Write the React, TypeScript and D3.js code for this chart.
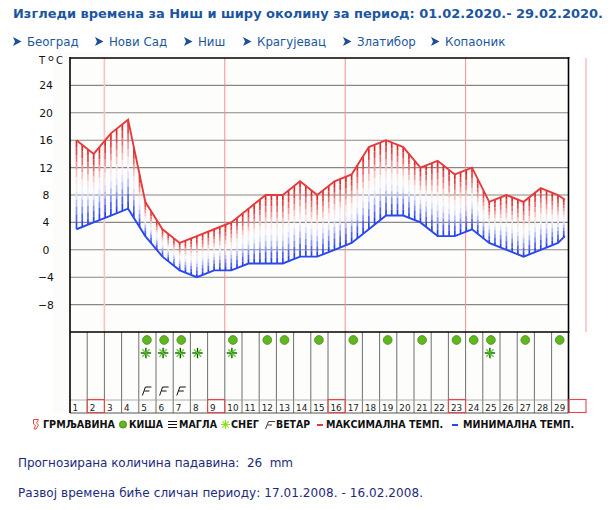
import { useEffect, useRef } from 'react';
import * as d3 from 'd3';

const title = 'Изгледи времена за Ниш и ширу околину за период: 01.02.2020.- 29.02.2020.';
const cities = ['Београд', 'Нови Сад', 'Ниш', 'Крагујевац', 'Златибор', 'Копаоник'];
const cityX = [27, 109, 198, 257, 357, 445];

const days = [
  1, 2, 3, 4, 5, 6, 7, 8, 9, 10, 11, 12, 13, 14, 15, 16, 17, 18, 19, 20, 21, 22, 23, 24, 25, 26, 27, 28, 29, 30,
];
// last entry is the short tail the original draws past day 29
const lineDays = [
  1, 2, 3, 4, 5, 6, 7, 8, 9, 10, 11, 12, 13, 14, 15, 16, 17, 18, 19, 20, 21, 22, 23, 24, 25, 26, 27, 28, 29, 29.4,
];
const maxTemps = [
  16, 14, 17, 19, 7, 3, 1, 2, 3, 4, 6, 8, 8, 10, 8, 10, 11, 15, 16, 15, 12, 13, 11, 12, 7, 8, 7, 9, 8, 7.3,
];
const minTemps = [
  3, 4, 5, 6, 2, -1, -3, -4, -3, -3, -2, -2, -2, -1, -1, 0, 1, 3, 5, 5, 4, 2, 2, 3, 1, 0, -1, 0, 1, 2,
];
const tempTicks = [24, 20, 16, 12, 8, 4, 0, -4, -8];
const rainDays = [5, 6, 7, 10, 12, 13, 15, 17, 19, 21, 23, 24, 25, 27, 29];
const snowDays = [5, 6, 7, 8, 10, 25];
const windDays = [5, 6, 7];
const weekDays = [2, 9, 16, 23, 30];

const bandColors = [
  '#e2282c', '#e64548', '#ec7073', '#f19a9b', '#f6c4c4', '#fae4e4',
  '#f0f0ff', '#dcdfff', '#b6bdfd', '#8593f9', '#5063f4', '#2a45ef',
];

const legendLabels = ['ГРМЉАВИНА', 'КИША', 'МАГЛА', 'СНЕГ', 'ВЕТАР', 'МАКСИМАЛНА ТЕМП.', 'МИНИМАЛНА ТЕМП.'];
const legendX = [43, 129, 179, 231, 276, 326, 463];
const legendW = [72, 34, 38, 28, 34, 117, 111];

const App = () => {
  const svgRef = useRef(null);

  useEffect(() => {
    if (!svgRef.current) return;
    const svg = d3.select(svgRef.current);
    svg.selectAll('*').remove();
    const font = '"DejaVu Sans", Verdana, sans-serif';
    svg.attr('font-family', font);

    const left = 70;
    const right = 568.5;
    const top = 58;
    const mid = 332;
    const rowTop = 400;
    const bottom = 413;

    const y = d3.scaleLinear().domain([-12, 28]).range([mid, top]);
    const x = d3.scaleLinear().domain([1, 29]).range([76.5, 558]);
    const band = d3.scaleBand<number>().domain(days).range([70, 586]);
    const yMax = d3.scaleLinear().domain(lineDays).range(maxTemps);
    const yMin = d3.scaleLinear().domain(lineDays).range(minTemps);

    svg.append('rect').attr('x', 53).attr('y', 52).attr('width', 515).attr('height', 361).attr('fill', '#fcfdfb');
    svg.append('rect').attr('x', left).attr('y', top).attr('width', right - left).attr('height', bottom - top).attr('fill', '#fdfefc');

    // grid
    svg
      .selectAll('line.grid')
      .data(tempTicks)
      .join('line')
      .attr('class', 'grid')
      .attr('x1', left)
      .attr('x2', right)
      .attr('y1', (d) => y(d))
      .attr('y2', (d) => y(d))
      .attr('stroke', '#8b8683')
      .attr('stroke-width', 1.1);

    // week markers sit on the right edge of the boxed day
    const weekX = (d: number) => band(d)! + band.bandwidth();
    svg
      .selectAll('line.week')
      .data(weekDays)
      .join('line')
      .attr('class', 'week')
      .attr('x1', weekX)
      .attr('x2', weekX)
      .attr('y1', top)
      .attr('y2', mid)
      .attr('stroke', (d) => (d === 2 || d === 30 ? '#f8c4c4' : '#ef8f8f'))
      .attr('stroke-width', (d) => (d === 2 || d === 30 ? 1.6 : 1));

    // hatching between the two curves, 3 strokes per day
    const hatchDays = d3.range(1, 29.41, 1 / 3);
    const hatch = svg.append('g').attr('stroke-width', 1.7);
    hatchDays.forEach((d) => {
      const y0 = y(yMax(d));
      const y1 = y(yMin(d));
      const h = (y1 - y0) / bandColors.length;
      hatch
        .append('g')
        .selectAll('line')
        .data(bandColors)
        .join('line')
        .attr('x1', x(d))
        .attr('x2', x(d))
        .attr('y1', (_, i) => y0 + i * h)
        .attr('y2', (_, i) => y0 + (i + 1) * h)
        .attr('stroke', (c) => c);
    });

    const line = (vals: number[]) =>
      d3
        .line<number>()
        .x((d) => x(d))
        .y((_, i) => y(vals[i]))(lineDays);

    svg.append('path').attr('d', line(maxTemps)).attr('fill', 'none').attr('stroke', '#e63a3c').attr('stroke-width', 1.9);
    svg.append('path').attr('d', line(minTemps)).attr('fill', 'none').attr('stroke', '#2b47ee').attr('stroke-width', 1.9);

    // lower panel
    svg
      .selectAll('line.cell')
      .data(days.slice(1, 29))
      .join('line')
      .attr('class', 'cell')
      .attr('x1', (d) => band(d)!)
      .attr('x2', (d) => band(d)!)
      .attr('y1', mid)
      .attr('y2', bottom)
      .attr('stroke', '#5f5f5f')
      .attr('stroke-width', 0.9);
    svg.append('line').attr('x1', left).attr('x2', right).attr('y1', rowTop).attr('y2', rowTop).attr('stroke', '#9a9a9a').attr('stroke-width', 0.8);
    svg.append('line').attr('x1', left).attr('x2', right).attr('y1', bottom).attr('y2', bottom).attr('stroke', '#555').attr('stroke-width', 1);

    // frame
    svg.append('line').attr('x1', left).attr('x2', right + 1).attr('y1', top).attr('y2', top).attr('stroke', '#000').attr('stroke-width', 1.5);
    svg.append('line').attr('x1', left).attr('x2', right + 1).attr('y1', mid).attr('y2', mid).attr('stroke', '#000').attr('stroke-width', 1.6);
    svg.append('line').attr('x1', left).attr('x2', left).attr('y1', top - 1).attr('y2', bottom).attr('stroke', '#000').attr('stroke-width', 1.6);
    svg.append('line').attr('x1', right).attr('x2', right).attr('y1', top - 1).attr('y2', bottom).attr('stroke', '#000').attr('stroke-width', 1.6);

    // red boxes for the week days
    svg
      .selectAll('rect.box')
      .data(weekDays)
      .join('rect')
      .attr('class', 'box')
      .attr('x', (d) => band(d)!)
      .attr('y', rowTop - 0.5)
      .attr('width', band.bandwidth())
      .attr('height', bottom - rowTop)
      .attr('fill', 'none')
      .attr('stroke', '#e8474a')
      .attr('stroke-width', 1.1);

    // day labels
    svg
      .selectAll('text.day')
      .data(days.slice(0, 29))
      .join('text')
      .attr('class', 'day')
      .attr('x', (d) => band(d)! + 2.5)
      .attr('y', 410.5)
      .attr('font-size', 8.8)
      .attr('fill', '#222')
      .text((d) => d);

    // temperature axis
    const axis = svg
      .append('g')
      .attr('transform', 'translate(46,0)')
      .call(d3.axisLeft(y).tickValues(tempTicks).tickSize(0).tickPadding(0).tickFormat(d3.format('d')));
    axis.select('.domain').remove();
    axis
      .selectAll('text')
      .attr('text-anchor', 'middle')
      .attr('font-family', font)
      .attr('font-size', 10.8)
      .attr('fill', '#111')
      .attr('dy', '0.32em');

    svg.append('text').attr('x', 39).attr('y', 64).attr('font-size', 10).attr('fill', '#111').text('T');
    svg.append('text').attr('x', 48).attr('y', 61).attr('font-size', 9.5).attr('fill', '#111').text('o');
    svg.append('text').attr('x', 56).attr('y', 64).attr('font-size', 10).attr('fill', '#111').text('C');

    // weather symbols
    const centre = (d: number) => band(d)! + band.bandwidth() / 2;
    svg
      .selectAll('circle.rain')
      .data(rainDays)
      .join('circle')
      .attr('class', 'rain')
      .attr('cx', (d) => centre(d) - 0.5)
      .attr('cy', 340)
      .attr('r', 4.4)
      .attr('fill', '#5fb81c')
      .attr('stroke', '#3f7f17')
      .attr('stroke-width', 0.7);

    const snow = svg
      .selectAll('g.snow')
      .data(snowDays)
      .join('g')
      .attr('class', 'snow')
      .attr('transform', (d) => `translate(${centre(d) - 1.5},353)`);
    [0, 45, 90, 135].forEach((a) => {
      snow
        .append('line')
        .attr('y1', -5.2)
        .attr('y2', 5.2)
        .attr('transform', `rotate(${a})`)
        .attr('stroke', a % 90 === 0 ? '#123d08' : '#4fdc12')
        .attr('stroke-width', 1.3);
    });

    svg
      .selectAll('path.wind')
      .data(windDays)
      .join('path')
      .attr('class', 'wind')
      .attr('d', (d) => {
        const cx = centre(d) - 1;
        return `M${cx - 4},395.5L${cx - 1},387L${cx + 5},387M${cx - 2},391L${cx + 3},391`;
      })
      .attr('fill', 'none')
      .attr('stroke', '#111')
      .attr('stroke-width', 1);

    // legend
    svg
      .selectAll('text.legend')
      .data(legendLabels)
      .join('text')
      .attr('class', 'legend')
      .attr('x', (_, i) => legendX[i])
      .attr('y', 428)
      .attr('font-size', 9.6)
      .attr('font-weight', 'bold')
      .attr('fill', '#111')
      .attr('textLength', (_, i) => legendW[i])
      .attr('lengthAdjust', 'spacingAndGlyphs')
      .text((d) => d);

    svg.append('path').attr('d', 'M33.5,419.5H38.5L36.5,423L38.5,425L36,429H34L35.5,425.5L33.5,424Z').attr('fill', 'none').attr('stroke', '#e8474a').attr('stroke-width', 1);
    svg.append('circle').attr('cx', 123).attr('cy', 424.5).attr('r', 3.6).attr('fill', '#5fb81c').attr('stroke', '#3f7f17').attr('stroke-width', 0.8);
    [421.5, 424.5, 427.5].forEach((v) => {
      svg.append('line').attr('x1', 168).attr('x2', 177).attr('y1', v).attr('y2', v).attr('stroke', '#111').attr('stroke-width', 1);
    });
    [0, 45, 90, 135].forEach((a) => {
      svg.append('line').attr('y1', -4.5).attr('y2', 4.5).attr('transform', `translate(225.5,424.5) rotate(${a})`).attr('stroke', '#8be01e').attr('stroke-width', 1.1);
    });
    svg.append('path').attr('d', 'M265.5,429L268.5,421.5H275M267.5,425H272').attr('fill', 'none').attr('stroke', '#222').attr('stroke-width', 0.9);
    svg.append('rect').attr('x', 317).attr('y', 424).attr('width', 6).attr('height', 2).attr('fill', '#e8373a');
    svg.append('rect').attr('x', 452).attr('y', 424).attr('width', 6).attr('height', 2).attr('fill', '#2b47ee');

    // header
    svg.append('text').attr('x', 13).attr('y', 18).attr('font-size', 13).attr('font-weight', 'bold').attr('fill', '#1c56a0').attr('textLength', 590).attr('lengthAdjust', 'spacingAndGlyphs').text(title);
    svg
      .selectAll('text.city')
      .data(cities)
      .join('text')
      .attr('class', 'city')
      .attr('x', (_, i) => cityX[i])
      .attr('y', 46)
      .attr('font-size', 11.8)
      .attr('fill', '#1c56a0')
      .text((d) => d);
    svg
      .selectAll('path.arrow')
      .data(cityX)
      .join('path')
      .attr('class', 'arrow')
      .attr('d', (d) => `M${d - 14},37L${d - 5.5},41.5L${d - 14},46L${d - 12},41.5Z`)
      .attr('fill', '#1c4f96');

    // footer
    svg.append('text').attr('x', 18).attr('y', 467).attr('font-size', 12).attr('fill', '#1d2a7c').attr('xml:space', 'preserve').attr('textLength', 275).text('Прогнозирана количина падавина:  26  mm');
    svg.append('text').attr('x', 18).attr('y', 496.5).attr('font-size', 12).attr('fill', '#1d2a7c').attr('textLength', 405).text('Развој времена биће сличан периоду: 17.01.2008. - 16.02.2008.');
  }, []);

  return <svg ref={svgRef} width={615} height={510} style={{ position: 'absolute', left: 0, top: 0 }}></svg>;
};

export default App;
